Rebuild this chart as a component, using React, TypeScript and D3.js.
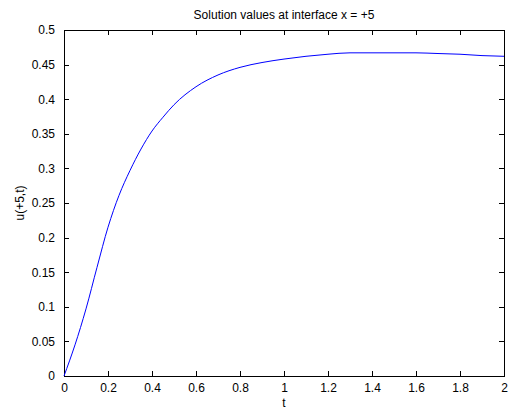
import React, { useEffect, useRef } from 'react';
import * as d3 from 'd3';

// values
const tValues = [0, 0.05, 0.1, 0.15, 0.2, 0.25, 0.3, 0.35, 0.4, 0.45, 0.5, 0.6, 0.7, 0.8, 0.9, 1.0, 1.1, 1.2, 1.3, 1.4, 1.5, 1.6, 1.7, 1.8, 1.9, 2.0];
const uValues = [0, 0.045, 0.097, 0.157, 0.215, 0.261, 0.297, 0.328, 0.354, 0.374, 0.392, 0.418, 0.435, 0.446, 0.453, 0.458, 0.462, 0.465, 0.467, 0.467, 0.467, 0.467, 0.466, 0.465, 0.463, 0.462];
const xTicks = [0, 0.2, 0.4, 0.6, 0.8, 1, 1.2, 1.4, 1.6, 1.8, 2];
const yTicks = [0, 0.05, 0.1, 0.15, 0.2, 0.25, 0.3, 0.35, 0.4, 0.45, 0.5];

const title = 'Solution values at interface x = +5';
const xLabel = 't';
const yLabel = 'u(+5,t)';

const App = () => {
  const svgRef = useRef<SVGSVGElement>(null);

  const containerWidth = 511;
  const containerHeight = 409;
  const margin = { top: 30, right: 7, bottom: 33, left: 64 };
  const width = containerWidth - margin.left - margin.right;
  const height = containerHeight - margin.top - margin.bottom;

  useEffect(() => {
    d3.select(svgRef.current).selectAll('*').remove();

    const svg = d3
      .select(svgRef.current)
      .append('g')
      .attr('transform', `translate(${margin.left},${margin.top})`);

    const xScale = d3.scaleLinear().domain([0, 2]).range([0, width]);
    const yScale = d3.scaleLinear().domain([0, 0.5]).range([height, 0]);

    const font = '"Liberation Sans", Arial, sans-serif';
    const fmt = (d: any) => String(d);

    // box
    svg
      .append('rect')
      .attr('width', width)
      .attr('height', height)
      .attr('fill', 'white')
      .attr('stroke', '#000')
      .attr('shape-rendering', 'crispEdges');

    // axes (ticks pointing inward)
    const styleAxis = (g: any, showLabels: boolean) => {
      g.select('.domain').remove();
      g.selectAll('line').attr('stroke', '#000').attr('shape-rendering', 'crispEdges');
      g.selectAll('text')
        .attr('font-family', font)
        .attr('font-size', 12)
        .attr('fill', '#000')
        .style('display', showLabels ? null : 'none');
    };

    svg
      .append('g')
      .attr('transform', `translate(0,${height})`)
      .call(d3.axisBottom(xScale).tickValues(xTicks).tickFormat(fmt).tickSizeInner(-5).tickSizeOuter(0).tickPadding(7))
      .call((g: any) => styleAxis(g, true));

    svg
      .append('g')
      .call(d3.axisTop(xScale).tickValues(xTicks).tickSizeInner(-5).tickSizeOuter(0))
      .call((g: any) => styleAxis(g, false));

    svg
      .append('g')
      .call(d3.axisLeft(yScale).tickValues(yTicks).tickFormat(fmt).tickSizeInner(-5).tickSizeOuter(0).tickPadding(9))
      .call((g: any) => styleAxis(g, true));

    svg
      .append('g')
      .attr('transform', `translate(${width},0)`)
      .call(d3.axisRight(yScale).tickValues(yTicks).tickSizeInner(-5).tickSizeOuter(0))
      .call((g: any) => styleAxis(g, false));

    // curve
    const points = tValues.map((t, i) => [t, uValues[i]] as [number, number]);
    const line = d3
      .line<[number, number]>()
      .x((d) => xScale(d[0]))
      .y((d) => yScale(d[1]))
      .curve(d3.curveMonotoneX);

    svg
      .append('path')
      .datum(points)
      .attr('fill', 'none')
      .attr('stroke', '#0000ff')
      .attr('stroke-width', 1)
      .attr('d', line);

    // labels
    svg
      .append('text')
      .attr('text-anchor', 'middle')
      .attr('x', width / 2)
      .attr('y', -11)
      .attr('font-family', font)
      .attr('font-size', 12)
      .text(title);

    svg
      .append('text')
      .attr('text-anchor', 'middle')
      .attr('x', width / 2)
      .attr('y', height + 30.5)
      .attr('font-family', font)
      .attr('font-size', 12)
      .text(xLabel);

    svg
      .append('text')
      .attr('text-anchor', 'middle')
      .attr('transform', `translate(${-40},${height / 2}) rotate(-90)`)
      .attr('font-family', font)
      .attr('font-size', 12)
      .text(yLabel);
  }, []);

  return (
    <svg
      ref={svgRef}
      width={containerWidth}
      height={containerHeight}
      style={{ position: 'absolute', left: 0, top: 0, background: 'white' }}
    ></svg>
  );
};

export default App;
